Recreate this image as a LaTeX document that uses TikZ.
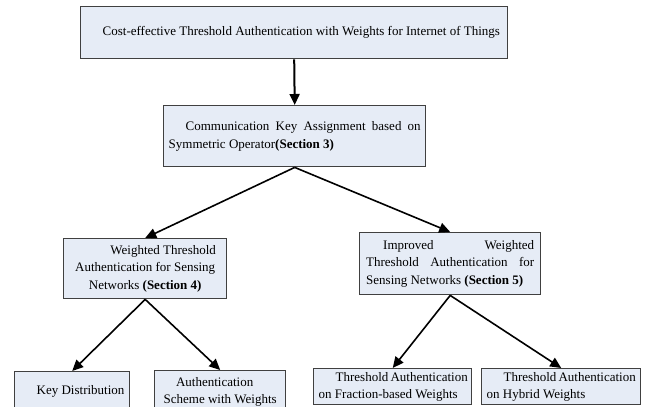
\documentclass[tikz,border=0pt]{standalone}
\usepackage{fontspec}
\setmainfont{Liberation Serif}
\usetikzlibrary{arrows.meta}
\definecolor{boxfill}{RGB}{230,236,246}
\definecolor{boxline}{RGB}{64,64,64}
\newcommand{\spl}[2]{\hbox to #1pt{#2}}
\begin{document}
\begin{tikzpicture}[x=1pt,y=-1pt,
  box/.style={draw=boxline,line width=1.4pt,fill=boxfill,inner sep=0pt,anchor=north west,font=\fontsize{13}{17.5}\selectfont},
  arr/.style={draw=black,line width=1.6pt,-{Triangle[length=11pt,width=10pt]}}]
\path[use as bounding box, fill=white] (0,0) rectangle (648,407);
\begin{scope}
\clip (0,0) rectangle (648,407);
\node[box,minimum width=427pt,minimum height=52pt] (top) at (80,6)
  {\parbox{417pt}{\hspace*{17pt}Cost-effective Threshold Authentication with Weights for Internet of Things}};
\node[box,minimum width=262pt,minimum height=61pt] (b2) at (163,105)
  {\parbox{252pt}{\spl{252}{\hspace*{17pt}Communication \hfill Key \hfill Assignment \hfill based \hfill on}\spl{252}{Symmetric Operator\textbf{(Section 3)}\hfil}}};
\node[box,minimum width=163pt,minimum height=60pt] (b3) at (63,238)
  {\parbox{153pt}{\spl{153}{\hfil\hspace*{36pt}Weighted Threshold\hfil}\spl{153}{\hfil Authentication for Sensing\hfil}\spl{153}{\hfil Networks \textbf{(Section 4)}\hfil}}};
\node[box,minimum width=181pt,minimum height=62pt] (b4) at (359,232)
  {\parbox{168pt}{\spl{168}{\hspace*{17pt}Improved \hfill Weighted}\spl{168}{Threshold \hfill Authentication \hfill for}\spl{168}{Sensing Networks \textbf{(Section 5)}\hfil}}};
\node[box,minimum width=115pt,minimum height=40pt] (b5) at (14,371)
  {\parbox{105pt}{\spl{105}{\hspace*{17pt}Key Distribution\hfil}}};
\node[box,minimum width=131pt,minimum height=42pt] (b6) at (154,370)
  {\parbox{121pt}{\spl{121}{\hfil Authentication\hspace*{11pt}\hfil}\spl{121}{\hfil Scheme with Weights\hfil}}};
\node[box,minimum width=158pt,minimum height=36pt] (b7) at (313,368)
  {\parbox{148pt}{\spl{148}{\hspace*{17pt}Threshold \hfill Authentication}\spl{148}{on Fraction-based Weights\hfil}}};
\node[box,minimum width=159pt,minimum height=36pt] (b8) at (481,368)
  {\parbox{149pt}{\spl{149}{\hspace*{17pt}Threshold \hfill Authentication}\spl{149}{on Hybrid Weights\hfil}}};
\draw[arr,line width=2pt] (top.south) -- (b2.north);
\draw[arr] (b2.south) -- (b3.north);
\draw[arr] (b2.south) -- (b4.north);
\draw[arr] (b3.south) -- (b5.north);
\draw[arr] (b3.south) -- (b6.north);
\draw[arr] (b4.south) -- (b7.north);
\draw[arr] (b4.south) -- (b8.north);
\end{scope}
\end{tikzpicture}
\end{document}
